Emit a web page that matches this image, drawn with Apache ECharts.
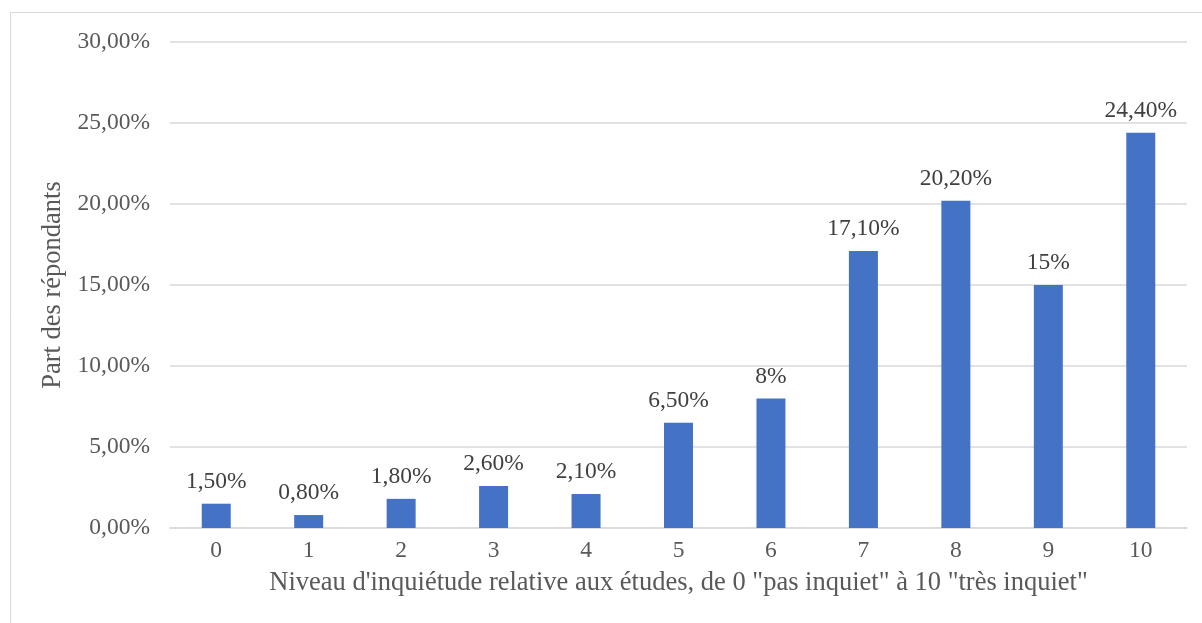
<!DOCTYPE html>
<html>
<head>
<meta charset="utf-8">
<script src="https://cdn.jsdelivr.net/npm/echarts@6/dist/echarts.min.js"></script>
<style>
html,body{margin:0;padding:0;background:#fff;}
#chart{width:1202px;height:623px;}
</style>
</head>
<body>
<div id="chart"></div>
<script>
var categories = ['0','1','2','3','4','5','6','7','8','9','10'];
var values = [1.5, 0.8, 1.8, 2.6, 2.1, 6.5, 8, 17.1, 20.2, 15, 24.4];
var yTicks = [0, 5, 10, 15, 20, 25, 30];
var xTitle = 'Niveau d\'inquiétude relative aux études, de 0 "pas inquiet" à 10 "très inquiet"';
var yTitle = 'Part des répondants';

var FONT = '"Liberation Serif", "Times New Roman", serif';
function fmtLabel(v) {
  if (Number.isInteger(v)) return v + '%';
  return v.toFixed(2).replace('.', ',') + '%';
}
var chart = echarts.init(document.getElementById('chart'), null, {renderer: 'canvas'});
chart.setOption({
  animation: false,
  backgroundColor: '#fff',
  graphic: [{
    type: 'rect',
    shape: {x: 10.5, y: 12.5, width: 1300, height: 800},
    style: {fill: 'none', stroke: '#d9d9d9', lineWidth: 1},
    silent: true
  }],
  grid: {left: 170, right: 15, top: 42, bottom: 95, containLabel: false},
  xAxis: {
    type: 'category',
    data: categories,
    name: xTitle,
    nameLocation: 'middle',
    nameGap: 42,
    nameTextStyle: {fontFamily: FONT, fontSize: 26.5, color: '#595959'},
    axisLine: {lineStyle: {color: '#d9d9d9', width: 1.5}},
    axisTick: {show: false},
    axisLabel: {fontFamily: FONT, fontSize: 23.5, color: '#595959', margin: 11}
  },
  yAxis: {
    type: 'value',
    min: yTicks[0],
    max: yTicks[yTicks.length - 1],
    interval: 5,
    name: yTitle,
    nameLocation: 'middle',
    nameGap: 102,
    nameTextStyle: {fontFamily: FONT, fontSize: 26.5, color: '#595959'},
    axisLine: {show: false},
    axisTick: {show: false},
    splitLine: {lineStyle: {color: '#d9d9d9', width: 1.5}},
    axisLabel: {
      fontFamily: FONT, fontSize: 23.5, color: '#595959', margin: 20,
      formatter: function (v) { return v.toFixed(2).replace('.', ',') + '%'; }
    }
  },
  series: [{
    type: 'bar',
    data: values,
    barWidth: 29,
    itemStyle: {color: '#4472C4'},
    label: {
      show: true,
      position: 'top',
      distance: 10,
      fontFamily: FONT,
      fontSize: 23.5,
      color: '#404040',
      formatter: function (p) { return fmtLabel(p.value); }
    }
  }]
});
</script>
</body>
</html>
